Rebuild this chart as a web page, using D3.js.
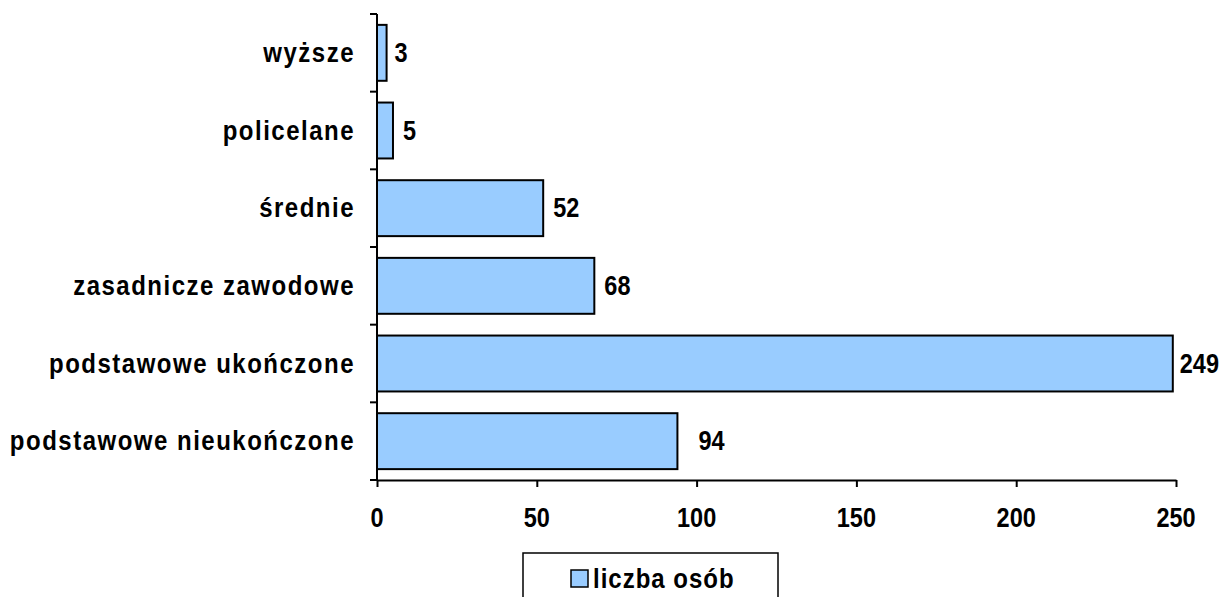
<!DOCTYPE html>
<html>
<head>
<meta charset="utf-8">
<script src="https://cdn.jsdelivr.net/npm/d3@7"></script>
<style>
  html, body { margin: 0; padding: 0; background: #fff; }
  svg { display: block; }
  text { font-family: "Liberation Sans", Arial, sans-serif; font-weight: bold; fill: #000; }
</style>
</head>
<body>
<svg id="chart" width="1224" height="597"></svg>
<script>
// Education level of respondents (top to bottom)
const categories = [
  "wyższe",
  "policelane",
  "średnie",
  "zasadnicze zawodowe",
  "podstawowe ukończone",
  "podstawowe nieukończone"
];
const values = [3, 5, 52, 68, 249, 94];
const xTicks = [0, 50, 100, 150, 200, 250];
const seriesName = "liczba osób";

const BAR_FILL = "#99CCFF";
const STRETCH = 1.16; // glyphs are drawn slightly taller than wide

const svg = d3.select("#chart");

const x = d3.scaleLinear().domain([0, 250]).range([377, 1176]);
const y = d3.scaleBand().domain(categories).range([14, 480])
  .paddingInner(0.28).paddingOuter(0.14);

// place a text element with vertical stretch
function label(g, tx, ty, str, anchor, size, spacing) {
  return g.append("text")
    .attr("transform", `translate(${tx},${ty}) scale(1,${STRETCH})`)
    .attr("text-anchor", anchor)
    .attr("font-size", size)
    .style("letter-spacing", (spacing || 0) + "px")
    .text(str);
}

// bars
svg.append("g").selectAll("rect")
  .data(categories)
  .join("rect")
  .attr("x", x(0))
  .attr("y", d => y(d))
  .attr("width", (d, i) => x(values[i]) - x(0))
  .attr("height", y.bandwidth())
  .attr("fill", BAR_FILL)
  .attr("stroke", "#000")
  .attr("stroke-width", 2);

// value labels, a few nudged to avoid crowding
const labelShift = { "podstawowe nieukończone": 21, "podstawowe ukończone": 7, "wyższe": 8 };
const valueG = svg.append("g");
categories.forEach((c, i) => {
  const dx = labelShift[c] !== undefined ? labelShift[c] : 10;
  label(valueG, x(values[i]) + dx, y(c) + y.bandwidth() / 2 + 9, String(values[i]), "start", 23.5, 0);
});

// x axis
const xAxis = svg.append("g")
  .attr("transform", "translate(0,480)")
  .call(d3.axisBottom(x).tickValues(xTicks).tickSize(7).tickSizeOuter(0).tickFormat(""));
xAxis.select(".domain").attr("stroke", "#000").attr("stroke-width", 2);
xAxis.selectAll(".tick line").attr("stroke", "#000").attr("stroke-width", 2);

const xLabG = svg.append("g");
xTicks.forEach(t => label(xLabG, x(t), 527, String(t), "middle", 23.5, 0));

// y axis: line with ticks on category boundaries
const yAxisG = svg.append("g");
const yTop = y.range()[0], yBottom = y.range()[1];
yAxisG.append("line")
  .attr("x1", x(0)).attr("x2", x(0))
  .attr("y1", yTop).attr("y2", yBottom)
  .attr("stroke", "#000").attr("stroke-width", 2);
const boundaries = categories.map(c => y(c) - y.step() * y.paddingInner() / 2);
boundaries.push(yBottom);
yAxisG.selectAll("line.tick")
  .data(boundaries)
  .join("line")
  .attr("class", "tick")
  .attr("x1", x(0) - 7).attr("x2", x(0))
  .attr("y1", d => d).attr("y2", d => d)
  .attr("stroke", "#000").attr("stroke-width", 2);

const yLabG = svg.append("g");
categories.forEach(c => label(yLabG, 355, y(c) + y.bandwidth() / 2 + 9, c, "end", 24, 1.5));

// legend
const legend = svg.append("g");
legend.append("rect")
  .attr("x", 523).attr("y", 553)
  .attr("width", 255).attr("height", 60)
  .attr("fill", "#fff").attr("stroke", "#000").attr("stroke-width", 1.5);
legend.append("rect")
  .attr("x", 571).attr("y", 570)
  .attr("width", 17).attr("height", 17)
  .attr("fill", BAR_FILL).attr("stroke", "#000").attr("stroke-width", 1.5);
label(legend, 593, 588, seriesName, "start", 24, 1);
</script>
</body>
</html>
